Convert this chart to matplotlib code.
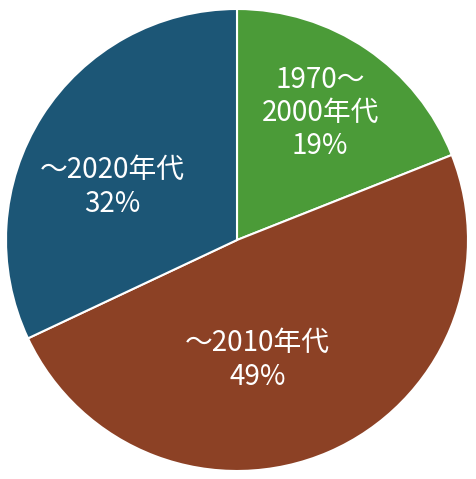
import matplotlib.pyplot as plt

plt.rcParams['font.family'] = ['Noto Sans CJK JP', 'DejaVu Sans']

# data
labels = ['1970～\n2000年代', '～2010年代', '～2020年代']
shares = [19, 49, 32]
colors = ['#4b9b38', '#8c4125', '#1c5676']
# label anchor positions (axes units, pie radius = 1)
label_pos = [(0.36, 0.55), (0.09, -0.52), (-0.54, 0.23)]

fig = plt.figure(figsize=(4.77, 4.79), dpi=100)
ax = fig.add_axes([6 / 477, 8 / 479, 462 / 477, 462 / 479])

ax.pie(shares, colors=colors, startangle=90, counterclock=False,
       radius=1, wedgeprops=dict(edgecolor='white', linewidth=1.5))

for lab, val, (x, y) in zip(labels, shares, label_pos):
    ax.text(x, y, f'{lab}\n{val}%', ha='center', va='center', color='white',
            fontsize=20, linespacing=1.15)

ax.set_xlim(-1, 1)
ax.set_ylim(-1, 1)
ax.set_aspect('equal')
ax.axis('off')

fig.savefig('out.png', dpi=100)
